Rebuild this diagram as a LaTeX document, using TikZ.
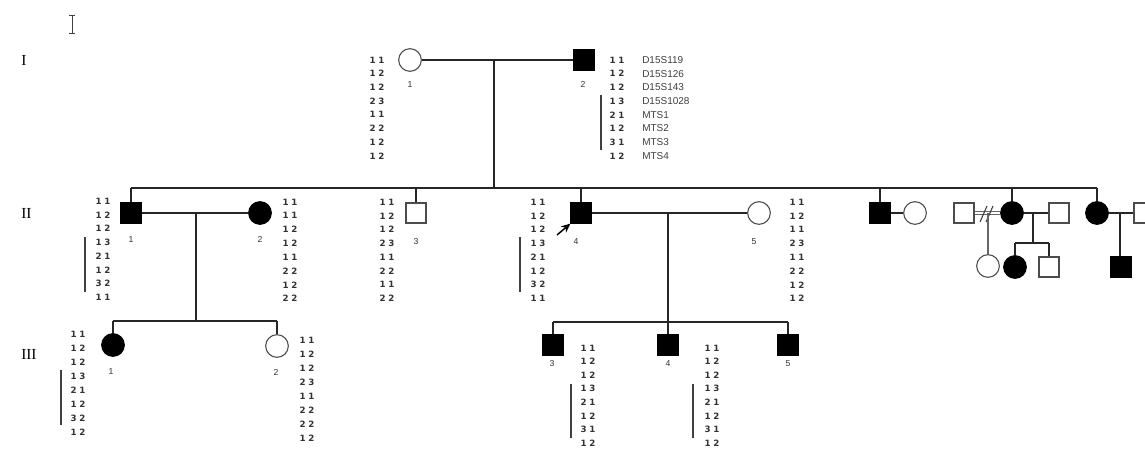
\documentclass[tikz,border=0pt]{standalone}
\usepackage{fontspec}
\setmainfont{Liberation Serif}
\newfontfamily\alfont{DejaVu Sans}
\newfontfamily\mkfont{Liberation Sans}
\usetikzlibrary{arrows.meta}
\def\splitpair#1#2{#1\hspace{0.3em}#2}
\newcommand\hapcolumn[5]{%
  \foreach \v [count=\i] in {#5}
    \node[al] (#1-\i) at (#2,{#3+#4*(\i-1)}) {\expandafter\splitpair\v};}
\begin{document}
\begin{tikzpicture}[x=0.75pt,y=-0.75pt,
  lin/.style={line width=0.9pt, draw=black!85},
  male/.style={draw=black!70, line width=0.8pt, minimum size=15pt, inner sep=0pt, rectangle},
  fem/.style={draw=black!70, line width=0.8pt, minimum size=17pt, inner sep=0pt, circle},
  aff/.style={fill=black, draw=black},
  al/.style={font=\alfont\bfseries\fontsize{6.5}{7.5}\selectfont, inner sep=0pt, text=black!80},
  mk/.style={font=\mkfont\fontsize{7.5}{9}\selectfont, inner sep=0pt, anchor=west, text=black!75},
  num/.style={font=\mkfont\fontsize{6.5}{8}\selectfont, inner sep=0pt, text=black!80},
  gen/.style={font=\fontsize{11.5}{13}\selectfont, inner sep=0pt, anchor=west},
  bar/.style={line width=0.8pt, draw=black!75},
]
\clip (0,0) rectangle (1145,450);
\fill[white] (0,0) rectangle (1145,450);

% cursor glyph
\draw[line width=0.6pt, black!75] (72,16) -- (72,33) (69,15.5) -- (75,15.5) (69,33.5) -- (75,33.5);

% generation labels
\node[gen] (gI) at (21,60) {I};
\node[gen] (gII) at (21,213) {II};
\node[gen] (gIII) at (21,354) {III};

% ---------- Generation I ----------
\node[fem] (f11) at (410,60) {};
\node[male,aff] (m12) at (584,60) {};
\node[num] (n11) at (410,85) {1};
\node[num] (n12) at (583,84) {2};
\draw[lin] (f11) -- (m12);
\coordinate (cI) at (494,60);
\coordinate (sII) at (494,188);
\draw[lin] (cI) -- (sII);

\hapcolumn{aI1}{377}{60}{13.7}{11,12,12,23,11,22,12,12}
\hapcolumn{aI2}{617}{60}{13.7}{11,12,12,13,21,12,31,12}
\foreach \m [count=\i] in {D15S119,D15S126,D15S143,D15S1028,MTS1,MTS2,MTS3,MTS4}
  \node[mk] (mk\i) at (642,{60+13.7*(\i-1)}) {\m};
\draw[bar] (601,95) -- (601,150);

% ---------- Generation II ----------
\coordinate (sIIa) at (131,188);
\coordinate (sIIb) at (1097,188);
\draw[lin] (sIIa) -- (sIIb);

\node[male,aff] (m21) at (131,213) {};
\node[fem,aff] (f22) at (260,213) {};
\node[male] (m23) at (416,213) {};
\node[male,aff] (m24) at (581,213) {};
\node[fem] (f25) at (759,213) {};
\node[male,aff] (m26) at (880,213) {};
\node[fem] (f27) at (915,213) {};
\node[male] (m28) at (964,213) {};
\node[fem,aff] (f29) at (1012,213) {};
\node[male] (m2a) at (1059,213) {};
\node[fem,aff] (f2b) at (1097,213) {};
\node[male] (m2c) at (1144,213) {};

\foreach \n in {m21,m23,m24,m26,f29,f2b}
  \draw[lin] (\n.north) -- (\n.north |- sIIa);

\draw[lin] (m21) -- (f22);
\draw[lin] (m24) -- (f25);
\draw[lin] (m26) -- (f27);
\draw[line width=0.6pt, draw=black!60, double=white, double distance=1.3pt] (m28) -- (f29);
\coordinate (sl1a) at (980,222); \coordinate (sl1b) at (987,206);
\coordinate (sl2a) at (986,222); \coordinate (sl2b) at (993,206);
\draw[line width=0.8pt, black!75] (sl1a) -- (sl1b) (sl2a) -- (sl2b);
\draw[lin] (f29) -- (m2a);
\draw[lin] (f2b) -- (m2c);

\node[num] (n21) at (131,240) {1};
\node[num] (n22) at (260,239) {2};
\node[num] (n23) at (416,242) {3};
\node[num] (n24) at (576,242) {4};
\node[num] (n25) at (754,242) {5};

\coordinate (pa) at (557,235);
\draw[-{Stealth[length=7pt,width=6pt]}, line width=1.1pt] (pa) -- (m24.south west);

\hapcolumn{aII1}{103}{201}{13.8}{11,12,12,13,21,12,32,11}
\draw[bar] (85,237) -- (85,292);
\hapcolumn{aII2}{290}{202}{13.8}{11,11,12,12,11,22,12,22}
\hapcolumn{aII3}{387}{202}{13.8}{11,12,12,23,11,22,11,22}
\hapcolumn{aII4}{538}{202}{13.8}{11,12,12,13,21,12,32,11}
\draw[bar] (520,237) -- (520,292);
\hapcolumn{aII5}{797}{202}{13.8}{11,12,11,23,11,22,12,12}

% right-hand families
\coordinate (c28) at (988,213);
\node[fem] (f2g) at (988,266) {};
\draw[line width=0.9pt, draw=black!60] (c28) -- (f2g);

\coordinate (c29) at (1033,213);
\coordinate (s29) at (1033,243);
\draw[lin] (c29) -- (s29);
\node[fem,aff] (f2d) at (1015,267) {};
\node[male] (m2e) at (1049,267) {};
\coordinate (s29a) at (1015,243);
\coordinate (s29b) at (1049,243);
\draw[lin] (s29a) -- (s29b);
\draw[lin] (f2d.north) -- (s29a);
\draw[lin] (m2e.north) -- (s29b);

\coordinate (c2b) at (1120,213);
\node[male,aff] (m2f) at (1121,267) {};
\draw[lin] (c2b) -- (m2f.north -| c2b);

% ---------- Generation III ----------
\coordinate (c21) at (196,213);
\coordinate (s31) at (196,321);
\draw[lin] (c21) -- (s31);
\coordinate (s31a) at (113,321);
\coordinate (s31b) at (277,321);
\draw[lin] (s31a) -- (s31b);
\node[fem,aff] (f31) at (113,345) {};
\node[fem] (f32) at (277,346) {};
\draw[lin] (f31.north) -- (s31a);
\draw[lin] (f32.north) -- (s31b);
\node[num] (n31) at (111,372) {1};
\node[num] (n32) at (276,372) {2};

\coordinate (c24) at (668,213);
\coordinate (s33) at (668,322);
\draw[lin] (c24) -- (s33);
\coordinate (s33a) at (553,322);
\coordinate (s33b) at (788,322);
\draw[lin] (s33a) -- (s33b);
\node[male,aff] (m33) at (553,345) {};
\node[male,aff] (m34) at (668,345) {};
\node[male,aff] (m35) at (788,345) {};
\foreach \n in {m33,m34,m35}
  \draw[lin] (\n.north) -- (\n.north |- s33a);
\node[num] (n33) at (552,364) {3};
\node[num] (n34) at (668,364) {4};
\node[num] (n35) at (788,364) {5};

\hapcolumn{aIII1}{78}{334}{14}{11,12,12,13,21,12,32,12}
\draw[bar] (61,370) -- (61,425);
\hapcolumn{aIII2}{307}{340}{14}{11,12,12,23,11,22,22,12}
\hapcolumn{aIII3}{588}{348}{13.6}{11,12,12,13,21,12,31,12}
\draw[bar] (571,384) -- (571,438);
\hapcolumn{aIII4}{712}{348}{13.6}{11,12,12,13,21,12,31,12}
\draw[bar] (693,384) -- (693,438);
\end{tikzpicture}
\end{document}
